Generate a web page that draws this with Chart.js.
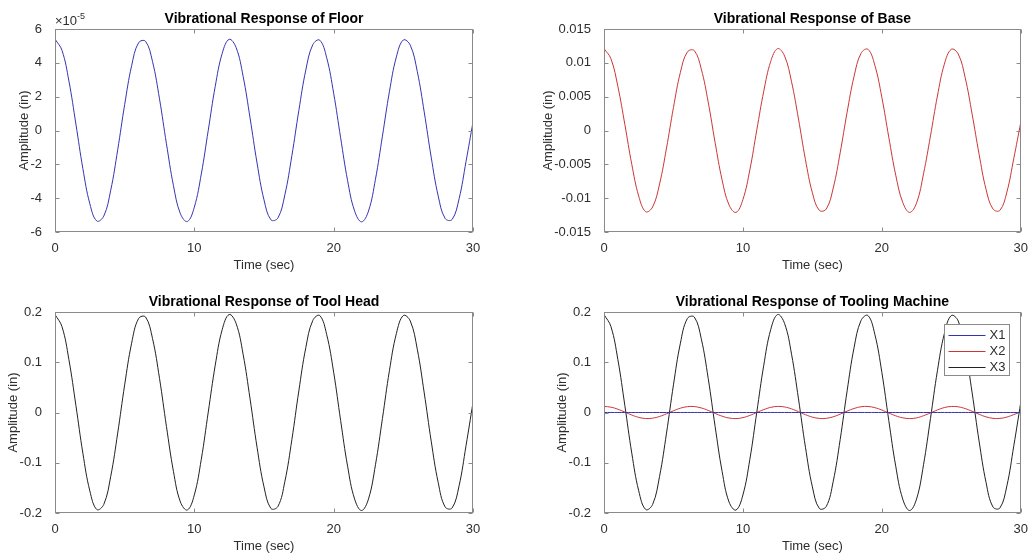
<!DOCTYPE html>
<html>
<head>
<meta charset="utf-8">
<title>Vibrational Response</title>
<script src="https://cdn.jsdelivr.net/npm/chart.js@4.4.0/dist/chart.umd.min.js"></script>
<style>
  html, body { margin: 0; padding: 0; background: #fff; }
  #wrap { position: relative; width: 1029px; height: 555px; }
  canvas { position: absolute; }
</style>
</head>
<body>
<div id="wrap">
  <canvas id="floorChart" width="514" height="277" style="left:0;top:0"></canvas>
  <canvas id="baseChart" width="514" height="277" style="left:515px;top:0"></canvas>
  <canvas id="headChart" width="514" height="277" style="left:0;top:278px"></canvas>
  <canvas id="machineChart" width="514" height="277" style="left:515px;top:278px"></canvas>
</div>
<script>
// time axis (sec)
const timeSec = [0, 0.5, 1, 1.5, 2, 2.5, 3, 3.5, 4, 4.5, 5, 5.5, 6, 6.5, 7, 7.5, 8, 8.5, 9, 9.5,
  10, 10.5, 11, 11.5, 12, 12.5, 13, 13.5, 14, 14.5, 15, 15.5, 16, 16.5, 17, 17.5, 18, 18.5, 19, 19.5,
  20, 20.5, 21, 21.5, 22, 22.5, 23, 23.5, 24, 24.5, 25, 25.5, 26, 26.5, 27, 27.5, 28, 28.5, 29, 29.5, 30];

// floor response, in units of 1e-5 in
const floorE5 = [5.40, 4.74, 2.92, 0.38, -2.25, -4.33, -5.35, -5.06, -3.53, -1.14,
  1.53, 3.83, 5.19, 5.27, 4.07, 1.87, -0.79, -3.25, -4.92, -5.38,
  -4.53, -2.57, 0.02, 2.61, 4.56, 5.39, 4.90, 3.21, 0.74, -1.92,
  -4.10, -5.28, -5.17, -3.79, -1.49, 1.18, 3.57, 5.07, 5.34, 4.30,
  2.20, -0.43, -2.96, -4.75, -5.40, -4.76, -2.88, -0.33, 2.29, 4.35,
  5.35, 5.04, 3.49, 1.09, -1.58, -3.86, -5.20, -5.26, -4.04, -1.83, 0.50];

// base response (in)
const baseIn = [0.0121, 0.0106, 0.0065, 0.0009, -0.0050, -0.0097, -0.0120, -0.0113, -0.0079, -0.0026,
  0.0034, 0.0086, 0.0116, 0.0118, 0.0091, 0.0042, -0.0018, -0.0073, -0.0110, -0.0121,
  -0.0102, -0.0058, 0.0001, 0.0058, 0.0102, 0.0121, 0.0110, 0.0072, 0.0017, -0.0043,
  -0.0092, -0.0118, -0.0116, -0.0085, -0.0033, 0.0027, 0.0080, 0.0114, 0.0120, 0.0096,
  0.0049, -0.0010, -0.0066, -0.0106, -0.0121, -0.0107, -0.0064, -0.0008, 0.0051, 0.0098,
  0.0120, 0.0113, 0.0078, 0.0024, -0.0035, -0.0087, -0.0116, -0.0118, -0.0091, -0.0041, 0.0012];

// tool head response (in)
const headIn = [0.195, 0.171, 0.105, 0.014, -0.081, -0.156, -0.193, -0.183, -0.127, -0.041,
  0.055, 0.138, 0.187, 0.190, 0.147, 0.068, -0.028, -0.117, -0.178, -0.194,
  -0.164, -0.093, 0.001, 0.094, 0.165, 0.195, 0.177, 0.116, 0.027, -0.069,
  -0.148, -0.191, -0.187, -0.137, -0.054, 0.043, 0.129, 0.183, 0.193, 0.155,
  0.080, -0.016, -0.107, -0.172, -0.195, -0.172, -0.104, -0.012, 0.083, 0.157,
  0.193, 0.182, 0.126, 0.039, -0.057, -0.139, -0.188, -0.190, -0.146, -0.066, 0.020];

const xTicks = [0, 10, 20, 30];
const legendLabels = ['X1', 'X2', 'X3'];

const BLUE = '#3434b0';
const RED = '#cc3636';
const BLACK = '#222222';
const FRAME = '#8a8a8a';
const FONT = '"Liberation Sans", Arial, Helvetica, sans-serif';
const legendColors = [BLUE, RED, BLACK];

Chart.defaults.font.family = FONT;
Chart.defaults.font.size = 13;
Chart.defaults.color = '#2e2e2e';

function toPoints(values) {
  return values.map((v, i) => ({ x: timeSec[i], y: v }));
}

// MATLAB style box, inward ticks, titles and legend
const matlabAxes = {
  id: 'matlabAxes',
  afterDraw(chart, args, opts) {
    const { ctx, chartArea: a, scales } = chart;
    const L = Math.round(a.left) + 0.5, R = Math.round(a.right) - 0.5;
    const T = Math.round(a.top) + 0.5, B = Math.round(a.bottom) - 0.5;
    ctx.save();
    ctx.strokeStyle = FRAME;
    ctx.lineWidth = 1;
    ctx.beginPath();
    scales.x.ticks.forEach(t => {
      const px = Math.round(scales.x.getPixelForValue(t.value)) + 0.5;
      ctx.moveTo(px, B); ctx.lineTo(px, B - 4);
      ctx.moveTo(px, T); ctx.lineTo(px, T + 4);
    });
    scales.y.ticks.forEach(t => {
      const py = Math.round(scales.y.getPixelForValue(t.value)) + 0.5;
      ctx.moveTo(L, py); ctx.lineTo(L + 4, py);
      ctx.moveTo(R, py); ctx.lineTo(R - 4, py);
    });
    ctx.stroke();
    ctx.strokeRect(L, T, R - L, B - T);

    // title
    ctx.fillStyle = '#000';
    ctx.textAlign = 'center';
    ctx.textBaseline = 'middle';
    ctx.font = 'bold 14px ' + FONT;
    ctx.fillText(opts.title, (a.left + a.right) / 2, a.top - 10);

    // axis titles
    ctx.fillStyle = '#2e2e2e';
    ctx.font = '13px ' + FONT;
    ctx.fillText('Time (sec)', (a.left + a.right) / 2, a.bottom + 33);
    let maxW = 0;
    scales.y.ticks.forEach(t => { maxW = Math.max(maxW, ctx.measureText(t.label).width); });
    ctx.save();
    ctx.translate(a.left - 5 - maxW - 14, (a.top + a.bottom) / 2);
    ctx.rotate(-Math.PI / 2);
    ctx.fillText('Amplitude (in)', 0, 0);
    ctx.restore();

    // exponent label
    if (opts.exponent) {
      ctx.textAlign = 'left';
      ctx.textBaseline = 'alphabetic';
      ctx.font = '13px ' + FONT;
      const base = '\u00d710';
      ctx.fillText(base, a.left, a.top - 4);
      const w = ctx.measureText(base).width;
      ctx.font = '9px ' + FONT;
      ctx.fillText(opts.exponent, a.left + w, a.top - 10);
    }

    // legend
    if (opts.legend) {
      const bw = 65, bh = 51;
      const bx = Math.round(a.right) - 12 - bw + 0.5, by = Math.round(a.top) + 12 + 0.5;
      ctx.fillStyle = '#fff';
      ctx.fillRect(bx, by, bw, bh);
      ctx.strokeStyle = FRAME;
      ctx.strokeRect(bx, by, bw, bh);
      ctx.font = '13px ' + FONT;
      ctx.textAlign = 'left';
      ctx.textBaseline = 'middle';
      legendLabels.forEach((label, i) => {
        const y = Math.round(by + 10 + i * 16) + 0.5;
        ctx.strokeStyle = legendColors[i];
        ctx.beginPath();
        ctx.moveTo(bx + 4, y); ctx.lineTo(bx + 41, y);
        ctx.stroke();
        ctx.fillStyle = '#2e2e2e';
        ctx.fillText(label, bx + 45, y);
      });
    }
    ctx.restore();
  }
};

function makeChart(id, box, datasets, yAxis, plugOpts) {
  const ctx = document.getElementById(id).getContext('2d');
  return new Chart(ctx, {
    type: 'line',
    data: { datasets: datasets },
    options: {
      responsive: false,
      animation: false,
      devicePixelRatio: 1,
      layout: { padding: { left: 0, top: box.t, right: 514 - box.r, bottom: 0 } },
      elements: { point: { radius: 0 }, line: { borderWidth: 1, tension: 0.4 } },
      plugins: { legend: { display: false }, tooltip: { enabled: false }, matlabAxes: plugOpts },
      scales: {
        x: {
          type: 'linear', min: 0, max: 30,
          afterBuildTicks: s => { s.ticks = xTicks.map(v => ({ value: v })); },
          afterFit: s => { s.height = 277 - box.b; },
          ticks: { padding: 1, maxRotation: 0 },
          grid: { display: false },
          border: { display: false }
        },
        y: {
          type: 'linear', min: yAxis.min, max: yAxis.max,
          ticks: { stepSize: yAxis.step, padding: 5, callback: yAxis.format },
          afterFit: s => { s.width = box.l; },
          grid: { display: false },
          border: { display: false }
        }
      }
    },
    plugins: [matlabAxes]
  });
}

const fmt3 = v => String(+v.toFixed(3));

// 地板
makeChart('floorChart', { l: 55, t: 29, r: 473, b: 232 },
  [{ label: 'Floor', data: toPoints(floorE5), borderColor: BLUE }],
  { min: -6, max: 6, step: 2, format: v => String(Math.round(v)) },
  { title: 'Vibrational Response of Floor', exponent: '-5' });

// 底座
makeChart('baseChart', { l: 89, t: 29, r: 507, b: 232 },
  [{ label: 'Base', data: toPoints(baseIn), borderColor: RED }],
  { min: -0.015, max: 0.015, step: 0.005, format: fmt3 },
  { title: 'Vibrational Response of Base' });

// 刀头
makeChart('headChart', { l: 55, t: 34, r: 473, b: 235 },
  [{ label: 'Tool Head', data: toPoints(headIn), borderColor: BLACK }],
  { min: -0.2, max: 0.2, step: 0.1, format: v => String(+v.toFixed(1)) },
  { title: 'Vibrational Response of Tool Head' });

// 整机
makeChart('machineChart', { l: 89, t: 34, r: 507, b: 235 },
  [
    { label: legendLabels[0], data: toPoints(floorE5.map(v => v * 1e-5)), borderColor: BLUE },
    { label: legendLabels[1], data: toPoints(baseIn), borderColor: RED },
    { label: legendLabels[2], data: toPoints(headIn), borderColor: BLACK }
  ],
  { min: -0.2, max: 0.2, step: 0.1, format: v => String(+v.toFixed(1)) },
  { title: 'Vibrational Response of Tooling Machine', legend: true });
</script>
</body>
</html>
